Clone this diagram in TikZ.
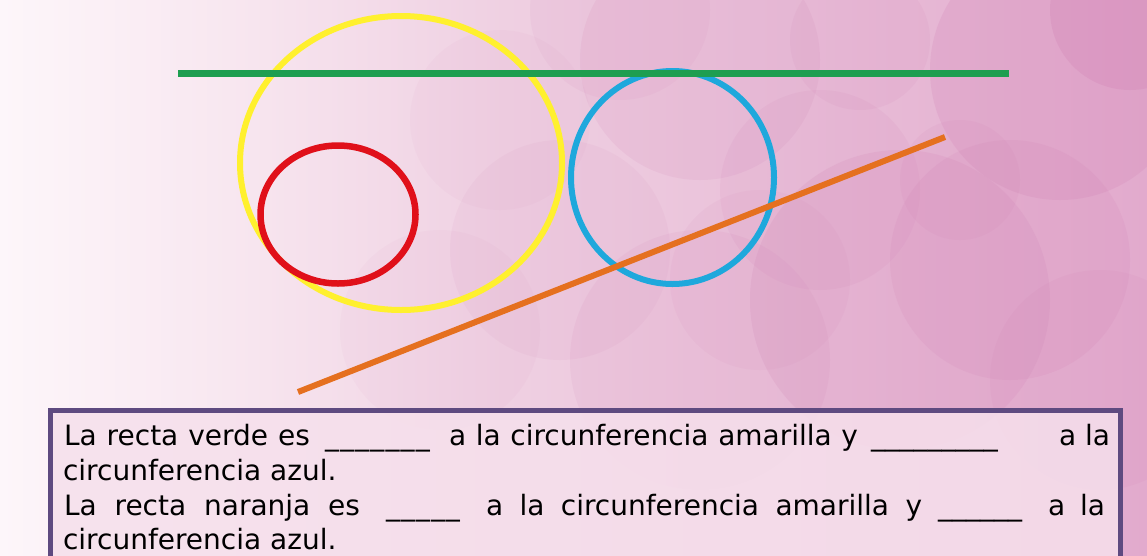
\documentclass[tikz,border=0pt]{standalone}
\usepackage{fontspec}
\setmainfont{DejaVu Sans}
\definecolor{bgA}{HTML}{FDF6FA}
\definecolor{bgB}{HTML}{F8E7F0}
\definecolor{bgM}{HTML}{EFD0E2}
\definecolor{bgR}{HTML}{E2AACD}
\definecolor{bokeh}{HTML}{D07EB2}
\definecolor{gline}{HTML}{1E9E50}
\definecolor{yline}{HTML}{FFF02E}
\definecolor{rline}{HTML}{E0101A}
\definecolor{cline}{HTML}{1EA8DC}
\definecolor{oline}{HTML}{E5701F}
\definecolor{frame}{HTML}{5E4A80}
\definecolor{boxfill}{HTML}{F6E0EC}
\pgfdeclarehorizontalshading{bgshade}{100bp}{color(0bp)=(bgA); color(25bp)=(bgA); color(35bp)=(bgB); color(47bp)=(bgM); color(75bp)=(bgR); color(100bp)=(bgR)}
\begin{document}
\begin{tikzpicture}[x=1pt,y=-1pt,
  stroke/.style={line width=#1},
  bub/.style={fill=bokeh,fill opacity=#1,draw=none},
  txt/.style={inner sep=0pt,outer sep=0pt,anchor=base west,font=\fontsize{28}{34}\selectfont}]
\useasboundingbox (0,0) rectangle (1147,555);
\clip (0,0) rectangle (1147,555);
% background
\shade[shading=bgshade] (0,0) rectangle (1147,555);
\foreach \cx/\cy/\r/\o in {
  700/60/120/0.12, 900/300/150/0.16, 1060/70/130/0.2, 820/190/100/0.1,
  560/250/110/0.08, 1010/260/120/0.14, 440/330/100/0.05, 700/360/130/0.1,
  620/10/90/0.08, 1130/10/80/0.25, 500/120/90/0.05, 860/40/70/0.1,
  1100/380/110/0.1, 760/280/90/0.08, 960/180/60/0.1}
  \fill[bub=\o] (\cx,\cy) circle (\r);
% figures
\draw[yline,stroke=6pt] (401,163) ellipse (161 and 147);
\draw[rline,stroke=6.5pt] (338,214.5) ellipse (77.5 and 69);
\draw[cline,stroke=6pt] (672.5,177.5) ellipse (101.5 and 106.5);
\coordinate (g1) at (178,73);
\coordinate (g2) at (1009,73);
\coordinate (o1) at (298,392);
\coordinate (o2) at (945,137);
\draw[gline,stroke=7pt] (g1) -- (g2);
\draw[oline,stroke=6pt] (o1) -- (o2);
% text box
\draw[frame,fill=boxfill,fill opacity=0.85,stroke=5pt] (50,410) rectangle (1120,580);
\node[txt] (l1a) at (64,445) {\makebox[246pt][s]{La recta verde es}};
\node[txt] (l1b) at (324,445) {\makebox[107pt]{\xleaders\hbox{\_}\hfill}};
\node[txt] (l1c) at (449,445) {\makebox[409pt][s]{a la circunferencia amarilla y}};
\node[txt] (l1d) at (871,445) {\makebox[127pt]{\xleaders\hbox{\_}\hfill}};
\node[txt] (l1e) at (1059,445) {a la};
\node[txt] (l2) at (63,480) {circunferencia azul.};
\node[txt] (l3a) at (64,515) {\makebox[296pt][s]{La recta naranja es}};
\node[txt] (l3b) at (385,515) {\makebox[76pt]{\xleaders\hbox{\_}\hfill}};
\node[txt] (l3c) at (486,515) {\makebox[436pt][s]{a la circunferencia amarilla y}};
\node[txt] (l3d) at (938,515) {\makebox[84pt]{\xleaders\hbox{\_}\hfill}};
\node[txt] (l3e) at (1048,515) {\makebox[57pt][s]{a la}};
\node[txt] (l4) at (63,549) {circunferencia azul.};
\end{tikzpicture}
\end{document}
